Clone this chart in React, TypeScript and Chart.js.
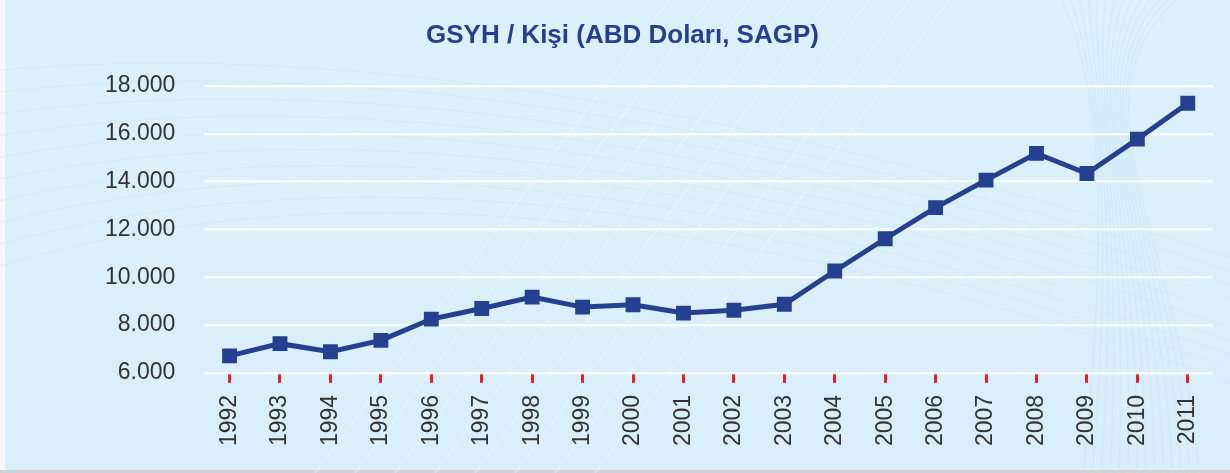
import React, { useEffect, useRef } from "react";
import { Chart, registerables } from "chart.js";

Chart.register(...registerables);

const titleText = "GSYH / Kişi (ABD Doları, SAGP)";
const years = [
  "1992", "1993", "1994", "1995", "1996", "1997", "1998", "1999", "2000", "2001",
  "2002", "2003", "2004", "2005", "2006", "2007", "2008", "2009", "2010", "2011",
];
const gdpPerCapita = [
  6710, 7220, 6880, 7360, 8250, 8690, 9170, 8750, 8850, 8500,
  8620, 8870, 10260, 11610, 12910, 14060, 15180, 14340, 15780, 17280,
];
const yMin = 6000;
const yMax = 18000;
const yStep = 2000;

const formatThousands = (v: number) =>
  String(Math.round(v)).replace(/\B(?=(\d{3})+(?!\d))/g, ".");

const FONT = "'Liberation Sans', Arial, Helvetica, sans-serif";
const LINE_COLOR = "#25408f";

// faint decorative background texture (not data)
const backgroundTexture = {
  id: "backgroundTexture",
  beforeDraw(chart: any) {
    const { ctx, width, height } = chart;
    ctx.save();
    ctx.lineWidth = 1.2;
    ctx.strokeStyle = "rgba(200,226,244,0.55)";
    for (let k = 0; k < 14; k++) {
      ctx.beginPath();
      ctx.moveTo(width * 0.88 + k * 9, height + 10);
      ctx.bezierCurveTo(width * 0.9 + k * 6, height * 0.5, width * 0.9 - k * 4, height * 0.2, width * 0.86 + k * 10, -10);
      ctx.stroke();
    }
    ctx.strokeStyle = "rgba(205,229,246,0.5)";
    for (let k = 0; k < 10; k++) {
      ctx.beginPath();
      ctx.moveTo(-10, height * 0.15 + k * 22);
      ctx.quadraticCurveTo(width * 0.4, height * 0.05 + k * 10, width + 10, height * 0.55 + k * 14);
      ctx.stroke();
    }
    ctx.strokeStyle = "rgba(255,255,255,0.35)";
    for (let k = 0; k < 8; k++) {
      ctx.beginPath();
      ctx.moveTo(width * 0.25 + k * 40, height + 10);
      ctx.lineTo(width * 0.55 + k * 40, -10);
      ctx.stroke();
    }
    ctx.restore();
  },
};

export default function App() {
  const canvasRef = useRef<HTMLCanvasElement | null>(null);

  useEffect(() => {
    if (!canvasRef.current) return;
    const chart = new Chart(canvasRef.current, {
      type: "line",
      data: {
        labels: years,
        datasets: [
          {
            data: gdpPerCapita,
            borderColor: LINE_COLOR,
            backgroundColor: LINE_COLOR,
            borderWidth: 5,
            pointStyle: "rect",
            pointRadius: 10.5,
            pointHoverRadius: 10.5,
            pointBorderWidth: 0,
            pointBackgroundColor: LINE_COLOR,
            tension: 0,
          },
        ],
      },
      options: {
        responsive: false,
        animation: false,
        layout: { padding: { left: 76, right: 17, top: 86, bottom: 15 } },
        plugins: {
          legend: { display: false },
          tooltip: { enabled: false },
          title: { display: false },
        },
        scales: {
          x: {
            offset: true,
            border: { display: false },
            grid: {
              drawOnChartArea: false,
              drawTicks: true,
              tickLength: 10,
              color: "#e3202a",
              lineWidth: 3,
            },
            ticks: {
              color: "#333333",
              font: { family: FONT, size: 23 },
              minRotation: 90,
              maxRotation: 90,
              padding: 12,
              autoSkip: false,
            },
          },
          y: {
            min: yMin,
            max: yMax,
            border: { display: false },
            grid: {
              color: "rgba(255,255,255,0.85)",
              lineWidth: 2.5,
              drawTicks: false,
            },
            ticks: {
              stepSize: yStep,
              color: "#333333",
              font: { family: FONT, size: 23 },
              padding: 29,
              callback: (v: any) => formatThousands(Number(v)),
            },
          },
        },
      },
      plugins: [backgroundTexture],
    });
    return () => chart.destroy();
  }, []);

  return (
    <div
      style={{
        position: "fixed",
        left: 0,
        top: 0,
        width: 1230,
        height: 473,
        background: "linear-gradient(180deg, #dcf0fb 0%, #d9eefa 100%)",
        overflow: "hidden",
      }}
    >
      <div style={{ position: "absolute", left: 0, top: 0, width: 5, height: 473, background: "#f2f8fc" }} />
      <div style={{ position: "absolute", left: 0, top: 470, width: 1230, height: 3, background: "#cfd3d6" }} />
      <canvas
        ref={canvasRef}
        width={1230}
        height={473}
        style={{ position: "absolute", left: 0, top: 0 }}
      />
      <div
        style={{
          position: "absolute",
          left: 0,
          top: 21,
          width: 1245,
          textAlign: "center",
          fontFamily: FONT,
          fontWeight: "bold",
          fontSize: 26,
          lineHeight: "26px",
          color: "#263f8e",
          whiteSpace: "nowrap",
        }}
      >
        {titleText}
      </div>
    </div>
  );
}
